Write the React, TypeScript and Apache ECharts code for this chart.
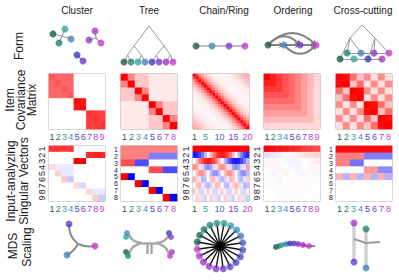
import React, { useEffect, useRef } from 'react';
import * as echarts from 'echarts';

const FONT = '"Liberation Sans", Arial, Helvetica, sans-serif';

// ---------- texts ----------
const columnTitles = ['Cluster', 'Tree', 'Chain/Ring', 'Ordering', 'Cross-cutting'];
const rowLabelForm = ['Form'];
const rowLabelCov = ['Item', 'Covariance', 'Matrix'];
const rowLabelSV = ['Input-analyzing', 'Singular Vectors'];
const rowLabelMDS = ['MDS', 'Scaling'];

// ---------- item colours ----------
const itemColors9 = ['#1e5b4d', '#2b8174', '#3aa69c', '#4a86ba', '#3c3eb7', '#6540c8', '#8a3dca', '#a93bca', '#c43ccb'];
const itemColors8 = ['#1e5b4d', '#2b8174', '#3aa69c', '#4a86ba', '#3c3eb7', '#7a3fc9', '#a03bca', '#c43ccb'];
const itemColors20 = ['#1e5b4d', '#216a5c', '#267a6c', '#2d8a7d', '#35998f', '#3aa39b', '#3e9fae', '#4590bc', '#4a7cc2', '#4a68c6',
  '#4756c8', '#4a4bc9', '#5546c9', '#6443ca', '#7440ca', '#843dca', '#953bca', '#a53bca', '#b43bca', '#c23cc9'];

// ---------- tick labels ----------
const labels9 = ['1', '2', '3', '4', '5', '6', '7', '8', '9'];
const labels8 = ['1', '2', '3', '4', '5', '6', '7', '8'];
const labels20 = ['1', '2', '3', '4', '5', '6', '7', '8', '9', '10', '11', '12', '13', '14', '15', '16', '17', '18', '19', '20'];
const chainTickLabels = ['1', '5', '10', '15', '20'];

// ---------- covariance matrices ----------
const covCluster = [
  [0.66, 0.6, 0.6, 0.6, 0, 0, 0, 0, 0],
  [0.6, 0.66, 0.6, 0.6, 0, 0, 0, 0, 0],
  [0.6, 0.6, 0.66, 0.6, 0, 0, 0, 0, 0],
  [0.6, 0.6, 0.6, 0.66, 0, 0, 0, 0, 0],
  [0, 0, 0, 0, 0.97, 0.93, 0, 0, 0],
  [0, 0, 0, 0, 0.93, 0.97, 0, 0, 0],
  [0, 0, 0, 0, 0, 0, 0.8, 0.76, 0.76],
  [0, 0, 0, 0, 0, 0, 0.76, 0.8, 0.76],
  [0, 0, 0, 0, 0, 0, 0.76, 0.76, 0.8],
];
const covTree = [
  [1, 0.48, 0.22, 0.22, 0.09, 0.09, 0.09, 0.09],
  [0.48, 1, 0.22, 0.22, 0.09, 0.09, 0.09, 0.09],
  [0.22, 0.22, 1, 0.48, 0.09, 0.09, 0.09, 0.09],
  [0.22, 0.22, 0.48, 1, 0.09, 0.09, 0.09, 0.09],
  [0.09, 0.09, 0.09, 0.09, 1, 0.48, 0.22, 0.22],
  [0.09, 0.09, 0.09, 0.09, 0.48, 1, 0.22, 0.22],
  [0.09, 0.09, 0.09, 0.09, 0.22, 0.22, 1, 0.48],
  [0.09, 0.09, 0.09, 0.09, 0.22, 0.22, 0.48, 1],
];
// covariance of chain items by index distance |i-j| (0..19)
const covChainByDistance = [1, 0.72, 0.5, 0.34, 0.22, 0.14, 0.09, 0.06, 0.05, 0.04, 0.04, 0.05, 0.06, 0.08, 0.11, 0.15, 0.2, 0.26, 0.3, 0.34];
// covariance of ordered items by the later item's rank
const covOrderingByRank = [1, 0.88, 0.78, 0.68, 0.58, 0.48, 0.38, 0.27, 0.15];
const covCross = [
  [1, 0.95, 0.57, 0.24, 0.45, 0.12, 0.45, 0.12],
  [0.95, 1, 0.24, 0.57, 0.12, 0.45, 0.12, 0.45],
  [0.57, 0.24, 1, 0.95, 0.45, 0.12, 0.45, 0.12],
  [0.24, 0.57, 0.95, 1, 0.12, 0.45, 0.12, 0.45],
  [0.45, 0.12, 0.45, 0.12, 1, 0.95, 0.57, 0.24],
  [0.12, 0.45, 0.12, 0.45, 0.95, 1, 0.24, 0.57],
  [0.45, 0.12, 0.45, 0.12, 0.57, 0.24, 1, 0.95],
  [0.12, 0.45, 0.12, 0.45, 0.24, 0.57, 0.95, 1],
];

// ---------- singular vectors ----------
const svCluster = [
  [0.8, 0.8, 0.8, 0.8, 0, 0, 0, 0, 0],
  [0, 0, 0, 0, 0, 0, 0.85, 0.85, 0.85],
  [0, 0, 0, 0, 1, 1, 0, 0, 0],
  [0.15, -0.08, -0.08, -0.08, 0, 0, 0, 0, 0],
  [0, 0.18, -0.09, -0.09, 0, 0, 0, 0, 0],
  [0, 0, 0.22, -0.22, 0, 0, 0, 0, 0],
  [0, 0, 0, 0, 0.15, -0.15, 0, 0, 0],
  [0, 0, 0, 0, 0, 0, 0.17, -0.09, -0.09],
  [0, 0, 0, 0, 0, 0, 0, 0.2, -0.2],
];
const svTree = [
  [0.5, 0.5, 0.5, 0.5, 0.5, 0.5, 0.5, 0.5],
  [0.5, 0.5, 0.5, 0.5, -0.5, -0.5, -0.5, -0.5],
  [0.7, 0.7, -0.7, -0.7, 0, 0, 0, 0],
  [0, 0, 0, 0, 0.7, 0.7, -0.7, -0.7],
  [1, -1, 0, 0, 0, 0, 0, 0],
  [0, 0, 1, -1, 0, 0, 0, 0],
  [0, 0, 0, 0, 1, -1, 0, 0],
  [0, 0, 0, 0, 0, 0, 1, -1],
];
const svChain = [
  [1, 1, 1, 1, 1, 1, 1, 1, 1, 1, 1, 1, 1, 1, 1, 1, 1, 1, 1, 1],
  [-0.9, -0.86, -0.73, -0.53, -0.28, 0, 0.28, 0.53, 0.73, 0.86, 0.9, 0.86, 0.73, 0.53, 0.28, 0, -0.28, -0.53, -0.73, -0.86],
  [0, 0.28, 0.53, 0.73, 0.86, 0.9, 0.86, 0.73, 0.53, 0.28, 0, -0.28, -0.53, -0.73, -0.86, -0.9, -0.86, -0.73, -0.53, -0.28],
  [0.45, 0.36, 0.14, -0.14, -0.36, -0.45, -0.36, -0.14, 0.14, 0.36, 0.45, 0.36, 0.14, -0.14, -0.36, -0.45, -0.36, -0.14, 0.14, 0.36],
  [0, 0.26, 0.43, 0.43, 0.26, 0, -0.26, -0.43, -0.43, -0.26, 0, 0.26, 0.43, 0.43, 0.26, 0, -0.26, -0.43, -0.43, -0.26],
  [0.3, 0.18, -0.09, -0.29, -0.24, 0, 0.24, 0.29, 0.09, -0.18, -0.3, -0.18, 0.09, 0.29, 0.24, 0, -0.24, -0.29, -0.09, 0.18],
  [0, 0.24, 0.29, 0.09, -0.18, -0.3, -0.18, 0.09, 0.29, 0.24, 0, -0.24, -0.29, -0.09, 0.18, 0.3, 0.18, -0.09, -0.29, -0.24],
  [0.2, 0.06, -0.16, -0.16, 0.06, 0.2, 0.06, -0.16, -0.16, 0.06, 0.2, 0.06, -0.16, -0.16, 0.06, 0.2, 0.06, -0.16, -0.16, 0.06],
  [0, 0.19, 0.12, -0.12, -0.19, 0, 0.19, 0.12, -0.12, -0.19, 0, 0.19, 0.12, -0.12, -0.19, 0, 0.19, 0.12, -0.12, -0.19],
];
const svOrdering = [
  [1, 0.97, 0.93, 0.9, 0.86, 0.82, 0.78, 0.74, 0.7],
  [-0.12, -0.1, -0.07, -0.03, 0.04, 0.08, 0.12, 0.15, 0.18],
  [0.03, 0.04, 0.02, -0.03, -0.05, -0.04, 0, 0.04, 0.07],
  [-0.02, 0.03, 0.04, 0.01, -0.03, -0.04, 0.01, 0.03, 0.02],
  [0.02, -0.03, 0.01, 0.04, 0.01, -0.03, -0.03, 0.02, 0.03],
  [-0.01, 0.02, -0.03, 0.01, 0.03, -0.02, 0.02, 0.01, -0.02],
  [0.01, -0.02, 0.02, -0.02, 0.02, 0.01, -0.02, 0.02, 0.01],
  [0, 0.01, -0.02, 0.02, -0.01, 0.02, 0.01, -0.02, 0.01],
  [0.01, 0, 0.01, -0.01, 0.02, -0.01, 0.01, 0.01, -0.01],
];
const svCross = [
  [0.95, 0.95, 0.95, 0.95, 0.95, 0.95, 0.95, 0.95],
  [0.5, 0.5, 0.5, 0.5, -0.5, -0.5, -0.5, -0.5],
  [0.5, 0.5, -0.55, -0.55, 0, 0, 0, 0],
  [0, 0, 0, 0, 0.4, 0.4, -0.45, -0.45],
  [0.3, -0.3, 0.3, -0.3, 0.3, -0.3, 0.3, -0.3],
  [0, 0, 0, 0, 0, 0, 0, 0],
  [0, 0, 0, 0, 0, 0, 0, 0],
  [0, 0, 0, 0, 0, 0, 0, 0],
];

// ---------- form diagrams (local panel units) ----------
type Pts = Record<string, number[]>;
const formClusterPts: Pts = { a: [20, 16], b: [54, 18], n1: [11, 14], n2: [17, 23], n3: [23, 9], n4: [29, 19], n5: [35, 35], n6: [41, 41], n7: [47, 20], n8: [53, 11], n9: [59, 23] };
const formClusterNodes: [string, number][] = [['n1', 0], ['n2', 1], ['n3', 2], ['n4', 3], ['n5', 4], ['n6', 5], ['n7', 6], ['n8', 7], ['n9', 8]];
const formClusterLinks: any[] = [['a', 'n1'], ['a', 'n2'], ['a', 'n3'], ['a', 'n4'], ['n5', 'n6'], ['b', 'n7'], ['b', 'n8'], ['b', 'n9']];

const formTreePts: Pts = { r: [35, 6], L: [20, 26], R: [50, 26], LL: [13.5, 35], LR: [27.5, 35], RL: [42.5, 35], RR: [56.5, 35],
  n1: [10, 42], n2: [17, 42], n3: [24, 42], n4: [31, 42], n5: [38, 42], n6: [45, 42], n7: [52, 42], n8: [59, 42] };
const formTreeNodes: [string, number][] = [['n1', 0], ['n2', 1], ['n3', 2], ['n4', 3], ['n5', 4], ['n6', 5], ['n7', 6], ['n8', 7]];
const formTreeLinks: any[] = [['r', 'L'], ['r', 'R'], ['L', 'LL'], ['L', 'LR'], ['R', 'RL'], ['R', 'RR'], ['LL', 'n1'], ['LL', 'n2'], ['LR', 'n3'], ['LR', 'n4'], ['RL', 'n5'], ['RL', 'n6'], ['RR', 'n7'], ['RR', 'n8']];

const formChainPts: Pts = { n1: [10, 26], n2: [26, 26], n3: [43, 26], n4: [59, 26] };
const formChainNodes: [string, number][] = [['n1', 0], ['n2', 7], ['n3', 15], ['n4', 19]];
const formChainLinks: any[] = [['n1', 'n2'], ['n2', 'n3'], ['n3', 'n4']];

const formOrderPts: Pts = { n1: [11, 25], n2: [27, 25], n3: [43, 25], n4: [59, 25] };
const formOrderNodes: [string, number][] = [['n1', 0], ['n2', 3], ['n3', 5], ['n4', 8]];
const formOrderLinks: any[] = [['n1', 'n2', 0], ['n2', 'n3', 0], ['n3', 'n4', 0], ['n1', 'n4', 0.5], ['n1', 'n3', 0.55], ['n2', 'n4', -0.55]];

const formCrossPts: Pts = { r: [34, 5], Lm: [22, 18], Rm: [47, 18],
  A1: [19, 33], A2: [33, 33], A3: [46, 33], A4: [61, 33], B1: [12, 39], B2: [26, 39], B3: [40, 39], B4: [54, 39] };
const formCrossNodes: [string, number][] = [['B1', 0], ['A1', 1], ['B2', 2], ['A2', 3], ['B3', 4], ['A3', 6], ['B4', 7], ['A4', 8]];
const formCrossLinks: any[] = [['r', 'Lm'], ['r', 'Rm'], ['Lm', 'B1'], ['Lm', 'A1'], ['Lm', 'A2'], ['Rm', 'A3'], ['Rm', 'A4'], ['Rm', 'B3'],
  ['A1', 'A2'], ['A2', 'A3'], ['A3', 'A4'], ['B1', 'B2'], ['B2', 'B3'], ['B3', 'B4']];

// ---------- MDS embeddings (local panel units) ----------
const mdsClusterPts: Pts = { h: [36, 29], p: [27, 9], m: [53, 31], b: [25, 40] };
const mdsClusterNodes: [string, number][] = [['p', 5], ['m', 8], ['b', 3]];
const mdsClusterLinks: any[] = [['h', 'p', 0.25], ['h', 'm', -0.15], ['h', 'b', 0.15]];

const mdsTreePts: Pts = { n4: [13, 18], n3: [12, 22], n1: [12, 37], n2: [14, 41], n5: [55, 18], n6: [57, 22], n7: [58, 37], n8: [56, 41],
  lt: [15, 20], lb: [15, 39], rt: [55, 20], rb: [55, 39], cl: [28, 28], cr: [42, 28], s1: [33, 28], s2: [37, 28], s1b: [33, 39], s2b: [37, 39] };
const mdsTreeNodes: [string, number][] = [['n1', 0], ['n2', 1], ['n3', 2], ['n4', 3], ['n5', 4], ['n6', 5], ['n7', 6], ['n8', 7]];
const mdsTreeLinks: any[] = [['lt', 'cl', -0.3], ['lb', 'cl', 0.3], ['cr', 'rt', -0.3], ['cr', 'rb', 0.3], ['cl', 'cr', 0], ['s1', 's1b', 0], ['s2', 's2b', 0]];

const ringItems = [0, 1, 2, 3, 4, 5, 6, 7, 8, 9, 10, 11, 12, 13, 14, 15, 16, 17, 18, 19];

const mdsOrderX = [19, 22, 25, 29, 33, 37, 41, 46, 52];
const mdsOrderY = [32, 31, 30, 29, 28.5, 28.5, 29, 30, 31];
const mdsOrderTail = [58, 31];

const mdsCrossPts: Pts = { m: [26, 8], t: [38, 14], p: [26, 47], b: [38, 53], c1: [26, 24], c2: [38, 28], c3: [52, 27] };
const mdsCrossNodes: [string, number][] = [['m', 7], ['t', 1], ['p', 5], ['b', 3]];

function buildOption() {
  const grids: any[] = [];
  const xAxes: any[] = [];
  const yAxes: any[] = [];
  const series: any[] = [];
  const covSeries: number[] = [];
  const svSeries: number[] = [];

  const addGrid = (g: any, xa: any, ya: any) => {
    grids.push(g);
    const gi = grids.length - 1;
    xAxes.push({ ...xa, gridIndex: gi });
    yAxes.push({ ...ya, gridIndex: gi });
    return gi;
  };
  const toCells = (m: number[][]) => m.flatMap((row, r) => row.map((v, c) => [c, r, v]));

  const covChain = labels20.map((_, i) => labels20.map((__, j) => covChainByDistance[Math.abs(i - j)]));
  const covOrdering = labels9.map((_, i) => labels9.map((__, j) => covOrderingByRank[Math.max(i, j)]));

  const panels = [
    { cov: covCluster, sv: svCluster, labels: labels9, colors: itemColors9, rot: 90 },
    { cov: covTree, sv: svTree, labels: labels8, colors: itemColors8, rot: 0 },
    { cov: covChain, sv: svChain, labels: labels20, colors: itemColors20, rot: 90 },
    { cov: covOrdering, sv: svOrdering, labels: labels9, colors: itemColors9, rot: 90 },
    { cov: covCross, sv: svCross, labels: labels8, colors: itemColors8, rot: 0 },
  ];
  const cellLefts = [49, 121, 193, 264, 336];
  const rowTops = [74, 146];
  const cw = 56, ch = 55;

  panels.forEach((p, i) => {
    [p.cov, p.sv].forEach((m, k) => {
      const rowLabels = k === 0 ? p.labels : p.labels.slice(0, m.length);
      const gi = addGrid(
        { left: cellLefts[i], top: rowTops[k], width: cw, height: ch, show: true, borderColor: '#9a9a9a', borderWidth: 1, backgroundColor: '#fff', containLabel: false },
        {
          type: 'category', data: p.labels, axisLine: { show: false }, axisTick: { show: false }, splitLine: { show: false },
          axisLabel: {
            fontSize: 9, margin: 3, fontFamily: FONT,
            interval: p.labels.length === 20 ? (_idx: number, v: string) => chainTickLabels.includes(v) : 0,
            color: (v: string) => p.colors[p.labels.indexOf(v)],
          },
        },
        {
          type: 'category', data: rowLabels, inverse: true, axisLine: { show: false }, axisTick: { show: false }, splitLine: { show: false },
          axisLabel: { show: k === 1, fontSize: p.rot ? 9 : 7, lineHeight: p.rot ? 9 : 6, margin: 3, fontFamily: FONT, color: '#222', interval: 0, rotate: p.rot },
        }
      );
      series.push({ type: 'heatmap', xAxisIndex: gi, yAxisIndex: gi, data: toCells(m), silent: true, itemStyle: { borderWidth: 0 } });
      (k === 0 ? covSeries : svSeries).push(series.length - 1);
    });
  });

  const hiddenX = (max: number) => ({ type: 'value', min: 0, max, show: false });
  const hiddenY = (max: number) => ({ type: 'value', min: 0, max, inverse: true, show: false });

  const addDiagram = (origin: number[], size: number[], pts: Pts, nodes: [string, number][], palette: string[], links: any[], o: any) => {
    const gi = addGrid({ left: origin[0], top: origin[1], width: size[0], height: size[1] }, hiddenX(size[0]), hiddenY(size[1]));
    if (links.length) {
      series.push({
        type: 'lines', coordinateSystem: 'cartesian2d', xAxisIndex: gi, yAxisIndex: gi, silent: true, z: 2,
        symbol: o.arrow ? ['none', 'arrow'] : 'none', symbolSize: o.arrow ? 5 : 0,
        lineStyle: { color: o.lineColor, width: o.lineWidth, opacity: 1 },
        data: links.map((l) => ({ coords: [pts[l[0]], pts[l[1]]], lineStyle: { curveness: l[2] ?? 0 } })),
      });
    }
    series.push({
      type: 'scatter', xAxisIndex: gi, yAxisIndex: gi, silent: true, z: 4, symbolSize: o.size,
      data: nodes.map(([k, ci]) => ({ value: pts[k], itemStyle: { color: palette[ci] } })),
    });
    return gi;
  };

  // Form row
  const formTop = 20, formSize = [70, 48];
  addDiagram([42, formTop], formSize, formClusterPts, formClusterNodes, itemColors9, formClusterLinks, { lineColor: '#9a9a9a', lineWidth: 1.2, size: 7 });
  addDiagram([114, formTop], formSize, formTreePts, formTreeNodes, itemColors8, formTreeLinks, { lineColor: '#9a9a9a', lineWidth: 1, size: 7 });
  addDiagram([186, formTop], formSize, formChainPts, formChainNodes, itemColors20, formChainLinks, { lineColor: '#aaaaaa', lineWidth: 1.5, size: 7 });
  addDiagram([257, formTop], formSize, formOrderPts, formOrderNodes, itemColors9, formOrderLinks, { lineColor: '#808080', lineWidth: 2, size: 7, arrow: true });
  addDiagram([328, formTop], formSize, formCrossPts, formCrossNodes, itemColors9, formCrossLinks, { lineColor: '#9a9a9a', lineWidth: 1, size: 7 });

  // MDS row
  const mdsTop = 215, mdsSize = [70, 60];
  addDiagram([42, mdsTop], mdsSize, mdsClusterPts, mdsClusterNodes, itemColors9, mdsClusterLinks, { lineColor: '#8a8a8a', lineWidth: 2, size: 7 });
  addDiagram([114, mdsTop], mdsSize, mdsTreePts, mdsTreeNodes, itemColors8, mdsTreeLinks, { lineColor: '#a8a8a8', lineWidth: 2.5, size: 6 });

  const go = addGrid({ left: 257, top: mdsTop, width: mdsSize[0], height: mdsSize[1] }, hiddenX(mdsSize[0]), hiddenY(mdsSize[1]));
  series.push({
    type: 'line', xAxisIndex: go, yAxisIndex: go, silent: true, symbol: 'none', smooth: true, z: 2,
    lineStyle: { color: '#888', width: 2 },
    data: [...mdsOrderX.map((x, i) => [x, mdsOrderY[i]]), mdsOrderTail],
  });
  series.push({
    type: 'scatter', xAxisIndex: go, yAxisIndex: go, silent: true, z: 4, symbolSize: 6,
    data: mdsOrderX.map((x, i) => ({ value: [x, mdsOrderY[i]], itemStyle: { color: itemColors9[i] } })),
  });

  const gc = addGrid({ left: 328, top: mdsTop, width: mdsSize[0], height: mdsSize[1] }, hiddenX(mdsSize[0]), hiddenY(mdsSize[1]));
  series.push({
    type: 'lines', coordinateSystem: 'cartesian2d', xAxisIndex: gc, yAxisIndex: gc, silent: true, z: 2,
    lineStyle: { color: '#d2d2d2', width: 3.5, opacity: 1 },
    data: [{ coords: [mdsCrossPts.m, mdsCrossPts.p] }, { coords: [mdsCrossPts.t, mdsCrossPts.b] }],
  });
  series.push({
    type: 'lines', coordinateSystem: 'cartesian2d', xAxisIndex: gc, yAxisIndex: gc, silent: true, z: 3, polyline: true,
    lineStyle: { color: '#9a9a9a', width: 2, opacity: 1 },
    data: [{ coords: [mdsCrossPts.c1, mdsCrossPts.c2, mdsCrossPts.c3] }],
  });
  series.push({
    type: 'scatter', xAxisIndex: gc, yAxisIndex: gc, silent: true, z: 4, symbolSize: 7,
    data: mdsCrossNodes.map(([k, ci]) => ({ value: mdsCrossPts[k], itemStyle: { color: itemColors9[ci] } })),
  });

  // Ring MDS in polar coordinates
  series.push({
    type: 'line', coordinateSystem: 'polar', polarIndex: 0, silent: true, symbol: 'none', z: 2,
    lineStyle: { color: '#111', width: 1.4 },
    data: ringItems.flatMap((i) => [[0, i], [1, i]]),
  });
  series.push({
    type: 'scatter', coordinateSystem: 'polar', polarIndex: 0, silent: true, z: 4, symbolSize: 7,
    data: ringItems.map((i) => ({ value: [1, i], itemStyle: { color: itemColors20[i] } })),
  });
  series.push({
    type: 'scatter', coordinateSystem: 'polar', polarIndex: 0, silent: true, z: 3, symbolSize: 7,
    data: [[0, 0]], itemStyle: { color: '#000' },
  });

  const txt = (text: string, x: number, y: number, size: number, rot = 0) => ({
    type: 'text', x, y, rotation: rot, silent: true,
    style: { text, x: 0, y: 0, fill: '#1a1a1a', font: `${size}px ${FONT}`, textAlign: 'center', textVerticalAlign: 'middle', align: 'center', verticalAlign: 'middle' },
  });
  const titleX = [77, 149, 224, 293, 363];
  const R = Math.PI / 2;
  const graphic = [
    ...columnTitles.map((t, i) => txt(t, titleX[i], 10, 10)),
    txt(rowLabelForm[0], 19, 46, 12, R),
    txt(rowLabelCov[0], 10, 100, 12, R),
    txt(rowLabelCov[1], 21, 100, 12, R),
    txt(rowLabelCov[2], 32, 100, 12, R),
    txt(rowLabelSV[0], 11, 181, 12, R),
    txt(rowLabelSV[1], 24, 181, 12, R),
    txt(rowLabelMDS[0], 13, 246, 12, R),
    txt(rowLabelMDS[1], 27, 247, 12, R),
  ];

  return {
    animation: false,
    backgroundColor: '#ffffff',
    grid: grids,
    xAxis: xAxes,
    yAxis: yAxes,
    polar: { center: [220, 246], radius: 23 },
    angleAxis: { type: 'value', min: 0, max: 20, startAngle: 170, clockwise: true, axisLine: { show: false }, axisTick: { show: false }, axisLabel: { show: false }, splitLine: { show: false } },
    radiusAxis: { type: 'value', min: 0, max: 1, axisLine: { show: false }, axisTick: { show: false }, axisLabel: { show: false }, splitLine: { show: false } },
    visualMap: [
      { type: 'continuous', show: false, min: 0, max: 1, dimension: 2, seriesIndex: covSeries, inRange: { color: ['#ffffff', '#ff0000'] } },
      { type: 'continuous', show: false, min: -1, max: 1, dimension: 2, seriesIndex: svSeries, inRange: { color: ['#0000ff', '#ffffff', '#ff0000'] } },
    ],
    graphic,
    series,
  };
}

export default function App() {
  const ref = useRef<HTMLDivElement>(null);
  useEffect(() => {
    const chart = echarts.init(ref.current!, null, { renderer: 'svg' });
    chart.setOption(buildOption() as any);
    return () => chart.dispose();
  }, []);
  return <div ref={ref} style={{ position: 'fixed', left: 0, top: 0, width: 399, height: 280, background: '#fff' }} />;
}
